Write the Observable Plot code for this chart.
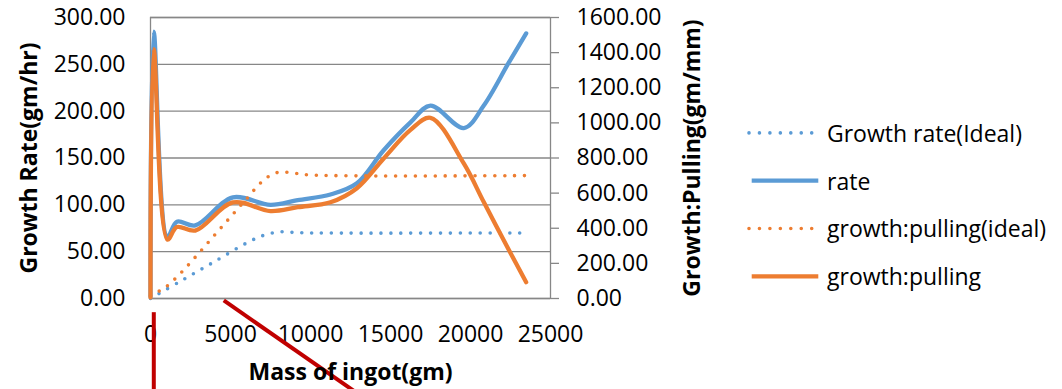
<!DOCTYPE html>
<html>
<head>
<meta charset="utf-8">
<script src="https://cdn.jsdelivr.net/npm/d3@7"></script>
<script src="https://cdn.jsdelivr.net/npm/@observablehq/plot@0.6"></script>
<style>
  html, body { margin: 0; padding: 0; background: #fff; }
  #chart { position: relative; width: 1062px; height: 389px; font-family: "Open Sans", sans-serif; }
  #chart svg.overlay { position: absolute; left: 0; top: 0; pointer-events: none; }
</style>
</head>
<body>
<div id="chart"></div>
<script>
// Measured growth run: mass of ingot (gm) against growth rate (gm/hr) and growth:pulling (gm/mm)
const massActual    = [0, 200, 1060, 1650, 2800, 5150, 7500, 9200, 11250, 12900, 14560, 16250, 17500, 19580, 20830, 22400, 23480];
const rateActual    = [2, 285, 66, 82, 78, 108, 100, 105, 111, 123, 158, 188, 206, 182, 206, 252, 283];
const pullingActual = [5, 1420, 335, 407, 387, 547, 498, 520, 548, 628, 796, 960, 1029, 769, 549, 276, 93];

// Ideal growth rate profile (gm/hr)
const massRateIdeal = [0, 2000, 4000, 6000, 7000, 8000, 9000, 10000, 23600];
const rateIdeal     = [0, 19.7, 39.4, 59.2, 67, 71, 70.5, 70, 70];

// Ideal growth:pulling profile (gm/mm)
const massPullingIdeal = [0, 500, 1000, 2000, 3000, 4000, 5000, 6000, 7000, 7750, 8400, 9000, 10000, 23600];
const pullingIdeal     = [15, 40, 68, 155, 256, 360, 464, 567, 668, 713, 719, 713, 703, 700];

// Axis ticks
const massTicks    = [0, 5000, 10000, 15000, 20000, 25000];
const rateTicks    = [0, 50, 100, 150, 200, 250, 300];
const pullingTicks = [0, 200, 400, 600, 800, 1000, 1200, 1400, 1600];

// Series labels and colours
const seriesNames  = ["Growth rate(Ideal)", "rate", "growth:pulling(ideal)", "growth:pulling"];
const seriesColors = ["#5B9BD5", "#5B9BD5", "#ED7D31", "#ED7D31"];
const seriesDotted = [true, false, true, false];

// Hand-drawn red pointer strokes (mass, growth-rate units)
const pointers = [
  {m1: 206,  v1: -14.6, m2: 206,   v2: -100},
  {m1: 4580, v1: -2.1,  m2: 12700, v2: -98.5}
];

// The secondary axis (0–1600) shares the primary scale (0–300)
const rateMax = 300, pullingMax = 1600;
const k = rateMax / pullingMax;

const actualRows  = massActual.map((m, i) => ({mass: m, rate: rateActual[i], pulling: pullingActual[i]}));
const rateIdealRows = massRateIdeal.map((m, i) => ({mass: m, rate: rateIdeal[i]}));
const pullingIdealRows = massPullingIdeal.map((m, i) => ({mass: m, pulling: pullingIdeal[i]}));

const gridColor = "#878787";
const dots = {strokeWidth: 3.6, strokeDasharray: "0 9.9", strokeLinecap: "round"};
const solid = {strokeWidth: 4.3, strokeLinecap: "round", strokeLinejoin: "round"};
const title = {textAnchor: "middle", lineAnchor: "middle", fontWeight: "bold", fontSize: 23, fill: "#000"};

const W = 1062, H = 389;

const chart = Plot.plot({
  width: W,
  height: H,
  marginLeft: 150,
  marginRight: 512,
  marginTop: 17,
  marginBottom: 91,
  style: {fontFamily: "'Open Sans', sans-serif", fontSize: "23px", color: "#000", background: "#fff", overflow: "visible"},
  x: {domain: [0, 25000]},
  y: {domain: [0, rateMax]},
  marks: [
    Plot.gridY(rateTicks, {stroke: gridColor, strokeOpacity: 1, strokeWidth: 1.3}),
    Plot.frame({stroke: gridColor, strokeWidth: 1.3}),
    Plot.axisX({ticks: massTicks, tickFormat: d => String(d), tickSize: 0, tickPadding: 27, label: null}),
    Plot.axisY({anchor: "left", ticks: rateTicks, tickFormat: d => d.toFixed(2), tickSize: 0, tickPadding: 25, label: null}),
    Plot.axisY({anchor: "right", ticks: pullingTicks.map(v => v * k), tickFormat: d => (d / k).toFixed(2),
                tickSize: 8, tickPadding: 18, stroke: gridColor, strokeWidth: 1.3, label: null}),
    // primary series
    Plot.line(rateIdealRows, {x: "mass", y: "rate", stroke: seriesColors[0], curve: "catmull-rom", ...dots}),
    Plot.line(actualRows, {x: "mass", y: "rate", stroke: seriesColors[1], curve: "catmull-rom", ...solid}),
    // secondary series
    Plot.line(pullingIdealRows, {x: "mass", y: d => d.pulling * k, stroke: seriesColors[2], curve: "catmull-rom", ...dots}),
    Plot.line(actualRows, {x: "mass", y: d => d.pulling * k, stroke: seriesColors[3], curve: "catmull-rom", ...solid}),
    // red pointer strokes
    Plot.link(pointers, {x1: "m1", y1: "v1", x2: "m2", y2: "v2", stroke: "#C00000", strokeWidth: 4, strokeLinecap: "butt"}),
    // axis titles
    Plot.text(["Growth Rate(gm/hr)"], {frameAnchor: "left", rotate: -90, dx: -121, ...title}),
    Plot.text(["Growth:Pulling(gm/mm)"], {frameAnchor: "right", rotate: -90, dx: 142, ...title}),
    Plot.text(["Mass of ingot(gm)"], {frameAnchor: "bottom", dy: 74, ...title})
  ]
});

const root = document.getElementById("chart");
root.appendChild(chart);

// Legend on the right, one row per series
const legend = d3.select(root).append("svg")
  .attr("class", "overlay")
  .attr("width", W)
  .attr("height", H)
  .style("font-family", "'Open Sans', sans-serif")
  .style("font-size", "23px");

const legendTop = 141.7, legendStep = 47.8;
seriesNames.forEach((name, i) => {
  const base = legendTop + i * legendStep;
  const cy = base - 8.8;
  const g = legend.append("g");
  if (seriesDotted[i]) {
    g.append("line")
      .attr("x1", 749).attr("x2", 814).attr("y1", cy).attr("y2", cy)
      .attr("stroke", seriesColors[i]).attr("stroke-width", 3.6)
      .attr("stroke-dasharray", "0 10.45").attr("stroke-linecap", "round");
  } else {
    g.append("line")
      .attr("x1", 751.7).attr("x2", 818.3).attr("y1", cy).attr("y2", cy)
      .attr("stroke", seriesColors[i]).attr("stroke-width", 4.3);
  }
  g.append("text").attr("x", 827).attr("y", base).attr("fill", "#000").text(name);
});
</script>
</body>
</html>
